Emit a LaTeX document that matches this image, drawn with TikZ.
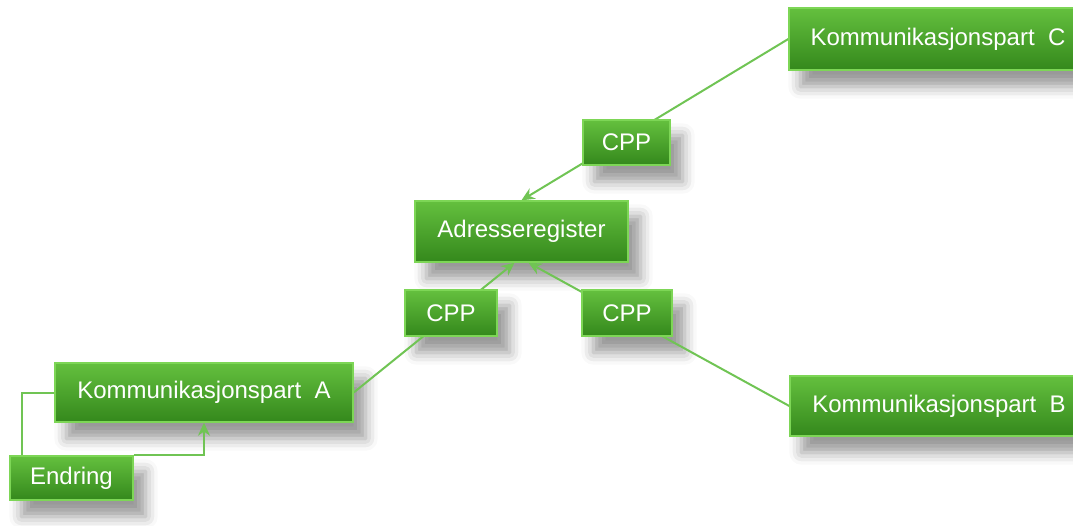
\documentclass[tikz,border=0pt]{standalone}
\usepackage{fontspec}
\setmainfont{Liberation Sans}
\usetikzlibrary{arrows.meta,shadows.blur,backgrounds}
\pgfdeclarelayer{shadowlayer}
\pgfsetlayers{shadowlayer,background,main}
\definecolor{gtop}{RGB}{100,192,62}
\definecolor{gbot}{RGB}{52,136,28}
\definecolor{gedge}{RGB}{125,214,86}
\definecolor{gline}{RGB}{112,196,84}
\tikzset{
  box/.style={rectangle, top color=gtop, bottom color=gbot, draw=gedge, line width=1.4pt,
    text=white, font=\fontsize{24}{28}\selectfont, inner sep=0pt, anchor=center},
  boxshadow/.style={blur shadow={shadow xshift=12pt, shadow yshift=-16pt, shadow blur radius=12pt, shadow opacity=40}},
  conn/.style={draw=gline, line width=2pt},
  arr/.style={conn, -{Stealth[length=13pt,width=12pt]}}
}
\begin{document}
\begin{tikzpicture}[x=1pt,y=-1pt]
\useasboundingbox (0,0) rectangle (1073,525);
\node[box, minimum width=298pt, minimum height=62pt] (C) at (938,39) {Kommunikasjonspart\ \ C};
\node[box, minimum width=87pt, minimum height=45pt] (cppc) at (626.5,142.5) {CPP};
\node[box, minimum width=213pt, minimum height=61pt] (ad) at (521.5,231.5) {Adresseregister};
\node[box, minimum width=92pt, minimum height=46pt] (cppa) at (451,313) {CPP};
\node[box, minimum width=90pt, minimum height=46pt] (cppb) at (627,313) {CPP};
\node[box, minimum width=298pt, minimum height=59pt] (A) at (204,392.5) {Kommunikasjonspart\ \ A};
\node[box, minimum width=298pt, minimum height=60pt] (B) at (939,406) {Kommunikasjonspart\ \ B};
\node[box, minimum width=123pt, minimum height=44pt] (E) at (71.5,478) {Endring};
\begin{pgfonlayer}{shadowlayer}
\foreach \n in {C,cppc,ad,cppa,cppb,A,B,E}
  \path[boxshadow, fill=white, fill opacity=0] (\n.south west) rectangle (\n.north east);
\end{pgfonlayer}
\begin{pgfonlayer}{background}
\draw[arr] (C.west) -- (ad.north);
\draw[arr] (A.east) -- ([xshift=-7pt]ad.south);
\draw[arr] (B.west) -- ([xshift=7pt]ad.south);
\coordinate (eL) at ([xshift=13pt]E.north west);
\draw[conn] (eL) |- (A.west);
\draw[arr] (E.north east) -| (A.south);
\end{pgfonlayer}
\end{tikzpicture}
\end{document}
